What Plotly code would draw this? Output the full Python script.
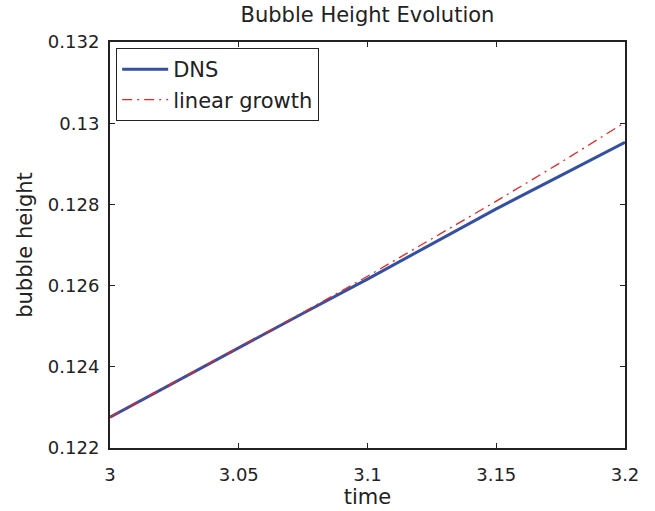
import plotly.graph_objects as go

time = [3.0, 3.025, 3.05, 3.075, 3.1, 3.125, 3.15, 3.175, 3.2]
dns = [0.12276, 0.12362, 0.12448, 0.12532, 0.12616, 0.12702, 0.12789, 0.12871, 0.12953]
linear = [0.12276, 0.12362, 0.12449, 0.12534, 0.12623, 0.12715, 0.12808, 0.12903, 0.13002]

x_ticks = [3, 3.05, 3.1, 3.15, 3.2]
x_labels = ["3", "3.05", "3.1", "3.15", "3.2"]
y_ticks = [0.122, 0.124, 0.126, 0.128, 0.13, 0.132]
y_labels = ["0.122", "0.124", "0.126", "0.128", "0.13", "0.132"]

font = "DejaVu Sans, Verdana, sans-serif"
ink = "#222"

fig = go.Figure()
fig.add_trace(go.Scatter(x=time, y=dns, mode="lines", name="DNS",
                         line=dict(color="rgb(52,80,165)", width=3)))
fig.add_trace(go.Scatter(x=time, y=linear, mode="lines", name="linear growth",
                         line=dict(color="rgb(235,35,35)", width=1.3, dash="10px,5px,2px,5px")))

axis_common = dict(showgrid=False, zeroline=False, showline=True, linecolor=ink,
                   linewidth=2, mirror="ticks", ticks="inside", ticklen=5,
                   tickcolor=ink, tickwidth=1,
                   tickfont=dict(family=font, size=18, color=ink))

fig.update_layout(
    width=655, height=511,
    margin=dict(l=110, r=30, t=42, b=59),
    paper_bgcolor="white", plot_bgcolor="white",
    title=dict(text="Bubble Height Evolution", x=0.5, xref="paper", xanchor="center",
               y=1 - 14.5 / 511, yanchor="middle",
               font=dict(family=font, size=21, color=ink)),
    xaxis=dict(range=[3, 3.2], tickvals=x_ticks, ticktext=x_labels,
               title=dict(text="time", standoff=0, font=dict(family=font, size=21, color=ink)),
               ticklabelstandoff=9, **axis_common),
    yaxis=dict(range=[0.122, 0.132], tickvals=y_ticks, ticktext=y_labels,
               title=dict(text="bubble height", standoff=10, font=dict(family=font, size=21, color=ink)),
               ticklabelstandoff=5, **axis_common),
    legend=dict(x=0.012, y=0.985, xanchor="left", yanchor="top",
                bgcolor="white", bordercolor=ink, borderwidth=1,
                font=dict(family=font, size=21, color=ink),
                tracegroupgap=0, itemwidth=46),
    showlegend=True,
)

fig.write_html("out.html")
